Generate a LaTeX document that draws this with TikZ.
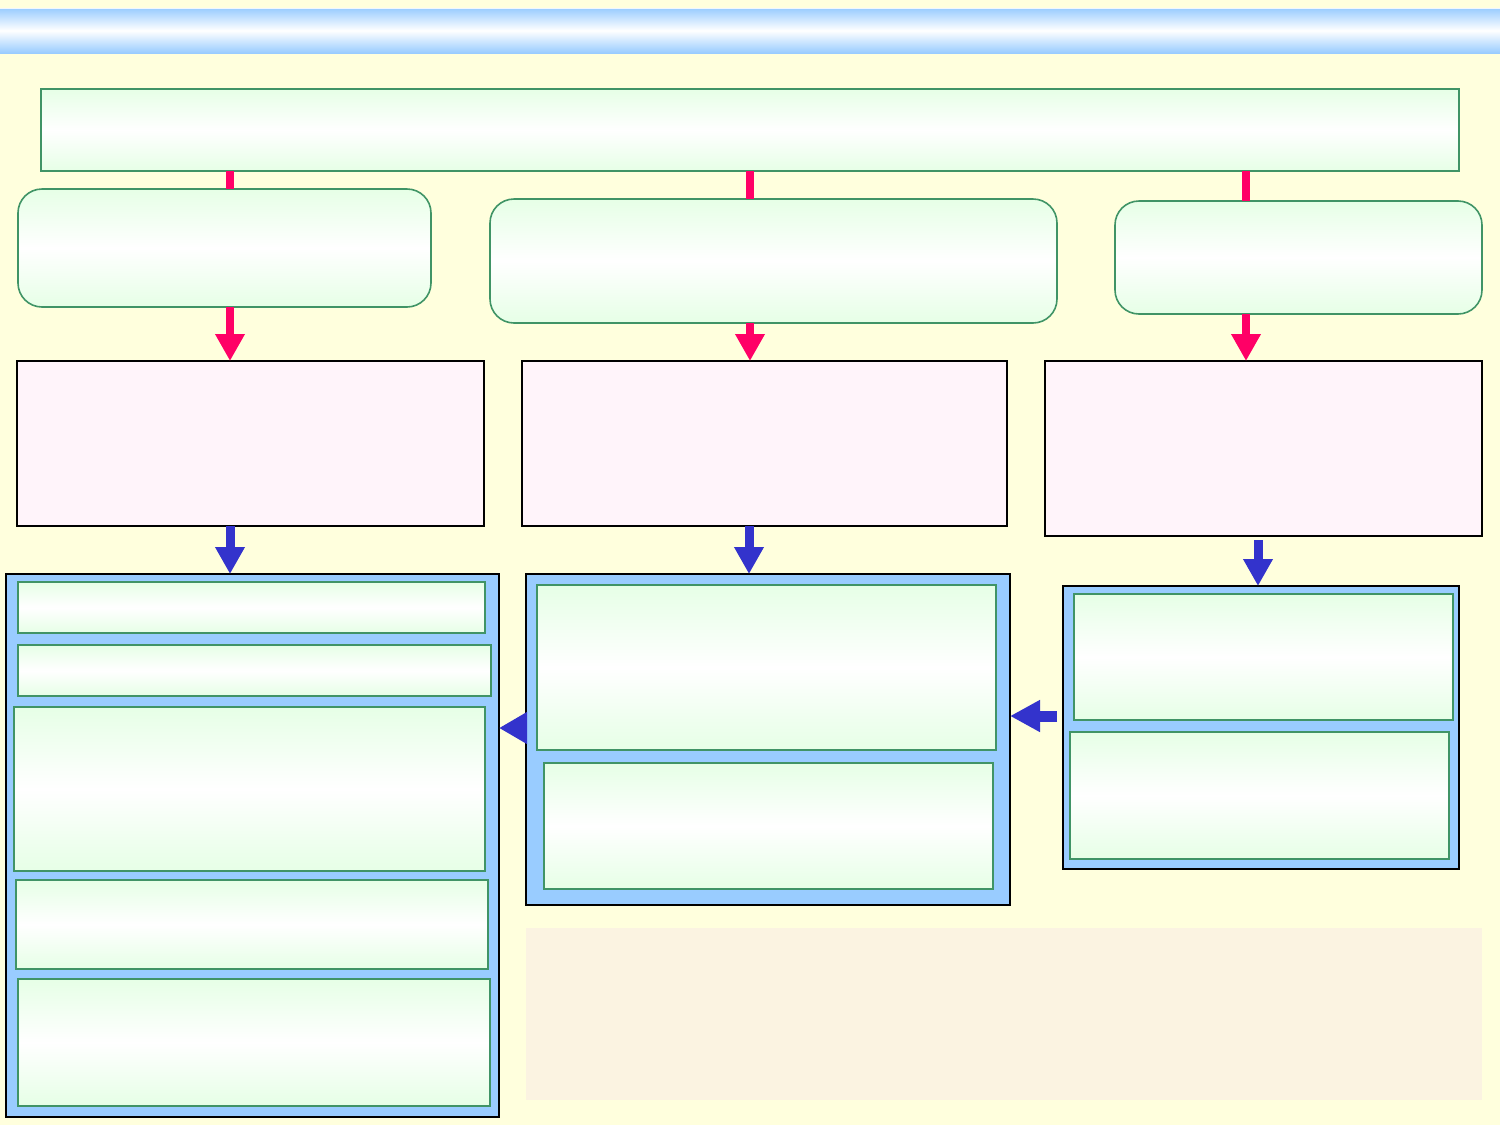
\documentclass[tikz,border=0pt]{standalone}
\usetikzlibrary{arrows.meta}
\definecolor{bgy}{HTML}{FFFFDD}
\definecolor{bannerblue}{HTML}{99CCFF}
\definecolor{gborder}{HTML}{409466}
\definecolor{gfill}{HTML}{E6FFE6}
\definecolor{pfill}{HTML}{FFF4FA}
\definecolor{cblue}{HTML}{99CCFF}
\definecolor{ablue}{HTML}{3333CC}
\definecolor{apink}{HTML}{FF0066}
\definecolor{beige}{HTML}{FBF3E1}
\tikzset{
  box/.style={anchor=north west, inner sep=0pt, outer sep=0pt},
  gbox/.style={box, draw=gborder, line width=1.6pt, top color=gfill, bottom color=gfill, middle color=white},
  rbox/.style={gbox, rounded corners=24pt},
  pbox/.style={box, draw=black, line width=1.6pt, fill=pfill},
  cbox/.style={box, draw=black, line width=1.4pt, fill=cblue},
  pinkline/.style={draw=apink, line width=8pt},
  pinkarrow/.style={draw=apink, line width=8pt, -{Triangle[width=28pt,length=27pt]}},
  bluearrow/.style={draw=ablue, line width=9pt, -{Triangle[width=28pt,length=27pt]}},
}
\newcommand{\bx}[7]{\node[#1, minimum width={#5-#3}, minimum height={#6-#4}] (#2) at (#3,#4) {#7};}
\begin{document}
\begin{tikzpicture}[x=1pt,y=-1pt]
\useasboundingbox (0,0) rectangle (1500,1125);
\fill[bgy] (0,0) rectangle (1500,1125);
% banner
\node[box, minimum width=1500, minimum height=45, top color=bannerblue, bottom color=bannerblue, middle color=white] (banner) at (0,8) {};
\draw[white!85!bannerblue, line width=1pt] (banner.north west) -- (banner.north east);
% beige panel
\bx{box, fill=beige}{note}{526}{928}{1482}{1100}{}
% top box
\bx{gbox}{top}{41}{89}{1459}{171}{}
% rounded boxes
\bx{rbox}{r1}{18}{189}{431}{307}{}
\bx{rbox}{r2}{490}{199}{1057}{323}{}
\bx{rbox}{r3}{1115}{201}{1482}{314}{}
% pink boxes
\bx{pbox}{p1}{17}{361}{484}{526}{}
\bx{pbox}{p2}{522}{361}{1007}{526}{}
\bx{pbox}{p3}{1045}{361}{1482}{536}{}
% containers
\bx{cbox}{b1}{6}{574}{499}{1117}{}
\bx{cbox}{b2}{526}{574}{1010}{905}{}
\bx{cbox}{b3}{1063}{586}{1459}{869}{}
% inner boxes
\bx{gbox}{b1a}{18}{582}{485}{633}{}
\bx{gbox}{b1b}{18}{645}{491}{696}{}
\bx{gbox}{b1c}{14}{707}{485}{871}{}
\bx{gbox}{b1d}{16}{880}{488}{969}{}
\bx{gbox}{b1e}{18}{979}{490}{1106}{}
\bx{gbox}{b2a}{537}{585}{996}{750}{}
\bx{gbox}{b2b}{544}{763}{993}{889}{}
\bx{gbox}{b3a}{1074}{594}{1453}{720}{}
\bx{gbox}{b3b}{1070}{732}{1449}{859}{}
% column coordinates
\coordinate (xa) at (230,0);
\coordinate (xb) at (750,0);
\coordinate (xc) at (1246,0);
\coordinate (xd) at (749,0);
\coordinate (xe) at (1258,0);
\coordinate (ya) at (0,728);
\coordinate (yb) at (0,716);
% pink connectors
\draw[pinkline] (top.south -| xa) -- (r1.north -| xa);
\draw[pinkline] (top.south -| xb) -- (r2.north -| xb);
\draw[pinkline] (top.south -| xc) -- (r3.north -| xc);
\draw[pinkarrow] (r1.south -| xa) -- (p1.north -| xa);
\draw[pinkarrow] (r2.south -| xb) -- (p2.north -| xb);
\draw[pinkarrow] (r3.south -| xc) -- (p3.north -| xc);
% blue arrows
\draw[bluearrow] (p1.south -| xa) -- (b1.north -| xa);
\draw[bluearrow] (p2.south -| xd) -- (b2.north -| xd);
\draw[bluearrow] ([yshift=-4pt]p3.south -| xe) -- (b3.north -| xe);
\draw[bluearrow, -{Triangle[width=30pt,length=28pt]}] (b2.west |- ya) -- (b1.east |- ya);
\draw[bluearrow, line width=11pt, -{Triangle[width=30pt,length=30pt]}] ([xshift=-6pt]b3.west |- yb) -- (b2.east |- yb);
% redraw b2 over the shaft of the left arrow
\end{tikzpicture}
\end{document}
